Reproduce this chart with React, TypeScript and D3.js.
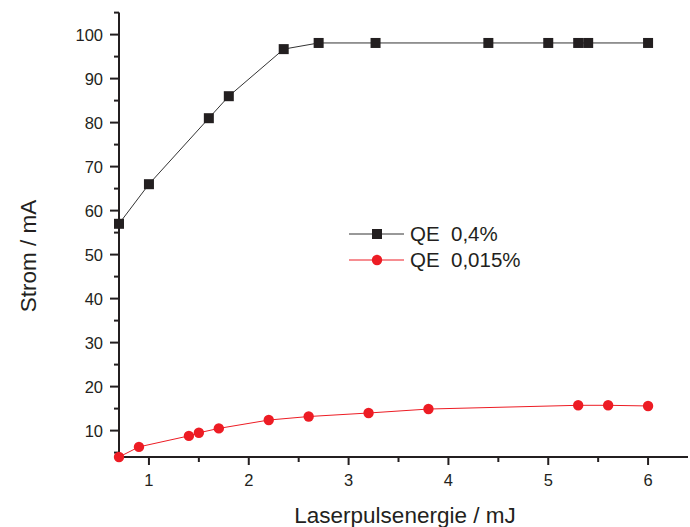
import React from "react";
import * as d3 from "d3";

const blackX = [0.7, 1.0, 1.6, 1.8, 2.35, 2.7, 3.27, 4.4, 5.0, 5.3, 5.4, 6.0];
const blackY = [57, 66, 81, 86, 96.7, 98.1, 98.1, 98.1, 98.1, 98.1, 98.1, 98.1];
const redX = [0.7, 0.9, 1.4, 1.5, 1.7, 2.2, 2.6, 3.2, 3.8, 5.3, 5.6, 6.0];
const redY = [4.0, 6.3, 8.8, 9.5, 10.5, 12.4, 13.2, 14.0, 14.9, 15.75, 15.75, 15.6];
const xTicks = [1, 2, 3, 4, 5, 6];
const xMinor = [1.5, 2.5, 3.5, 4.5, 5.5];
const yTicks = [10, 20, 30, 40, 50, 60, 70, 80, 90, 100];
const yMinor = [5, 15, 25, 35, 45, 55, 65, 75, 85, 95, 105];
const seriesNames = ["QE  0,4%", "QE  0,015%"];

const W = 690;
const H = 527;
const FONT = "'Liberation Sans', Arial, sans-serif";
const AXIS = "#231f20";
const RED = "#ed1c24";

export default function App() {
  const x = d3.scaleLinear().domain([0.7, 6.4]).range([119, 688]);
  const y = d3.scaleLinear().domain([4, 105]).range([457, 12.6]);
  const line = d3.line<[number, number]>().x((d) => x(d[0])).y((d) => y(d[1]));
  const bData = blackX.map((v, i) => [v, blackY[i]] as [number, number]);
  const rData = redX.map((v, i) => [v, redY[i]] as [number, number]);
  const x0 = x.range()[0];
  const y0 = y.range()[0];
  return (
    <svg width={W} height={H} style={{ position: "absolute", left: 0, top: 0, background: "#fff" }} fontFamily={FONT}>
      <rect width={W} height={H} fill="#fff" />
      {/* data lines */}
      <path d={line(bData) || ""} fill="none" stroke="#333" strokeWidth={1} />
      <path d={line(rData) || ""} fill="none" stroke={RED} strokeWidth={1} />
      {/* axes */}
      <line x1={x0} x2={x0} y1={y(105)} y2={y0 + 1} stroke={AXIS} strokeWidth={2} />
      <line x1={x0 - 1} x2={x.range()[1]} y1={y0} y2={y0} stroke={AXIS} strokeWidth={2} />
      {yTicks.map((t) => (
        <g key={"yt" + t}>
          <line x1={x0 - 9} x2={x0} y1={y(t)} y2={y(t)} stroke={AXIS} strokeWidth={2} />
          <text x={103} y={y(t) + 6} textAnchor="end" fontSize={16.5} fill={AXIS}>{t}</text>
        </g>
      ))}
      {yMinor.map((t) => (
        <line key={"ym" + t} x1={x0 - 5} x2={x0} y1={y(t)} y2={y(t)} stroke={AXIS} strokeWidth={2} />
      ))}
      {xTicks.map((t) => (
        <g key={"xt" + t}>
          <line x1={x(t)} x2={x(t)} y1={y0} y2={y0 + 8} stroke={AXIS} strokeWidth={2} />
          <text x={x(t)} y={486} textAnchor="middle" fontSize={16.5} fill={AXIS}>{t}</text>
        </g>
      ))}
      {xMinor.map((t) => (
        <line key={"xm" + t} x1={x(t)} x2={x(t)} y1={y0} y2={y0 + 5} stroke={AXIS} strokeWidth={2} />
      ))}
      {/* markers */}
      {bData.map((d, i) => (
        <rect key={"b" + i} x={x(d[0]) - 5} y={y(d[1]) - 5} width={10} height={10} fill={AXIS} />
      ))}
      {rData.map((d, i) => (
        <circle key={"r" + i} cx={x(d[0])} cy={y(d[1])} r={5.2} fill={RED} />
      ))}
      {/* axis titles */}
      <text x={405} y={523} textAnchor="middle" fontSize={22.5} fill={AXIS}>Laserpulsenergie / mJ</text>
      <text transform="translate(36,256) rotate(-90)" textAnchor="middle" fontSize={22.5} fill={AXIS}>Strom / mA</text>
      {/* legend */}
      <g>
        <line x1={349} x2={404} y1={234} y2={234} stroke="#333" strokeWidth={1} />
        <rect x={372} y={229} width={10} height={10} fill={AXIS} />
        <text x={410} y={241} fontSize={20.5} fill={AXIS} style={{ whiteSpace: "pre" }}>{seriesNames[0]}</text>
        <line x1={349} x2={404} y1={260} y2={260} stroke={RED} strokeWidth={1} />
        <circle cx={377} cy={260} r={5.2} fill={RED} />
        <text x={410} y={267} fontSize={20.5} fill={AXIS} style={{ whiteSpace: "pre" }}>{seriesNames[1]}</text>
      </g>
    </svg>
  );
}
